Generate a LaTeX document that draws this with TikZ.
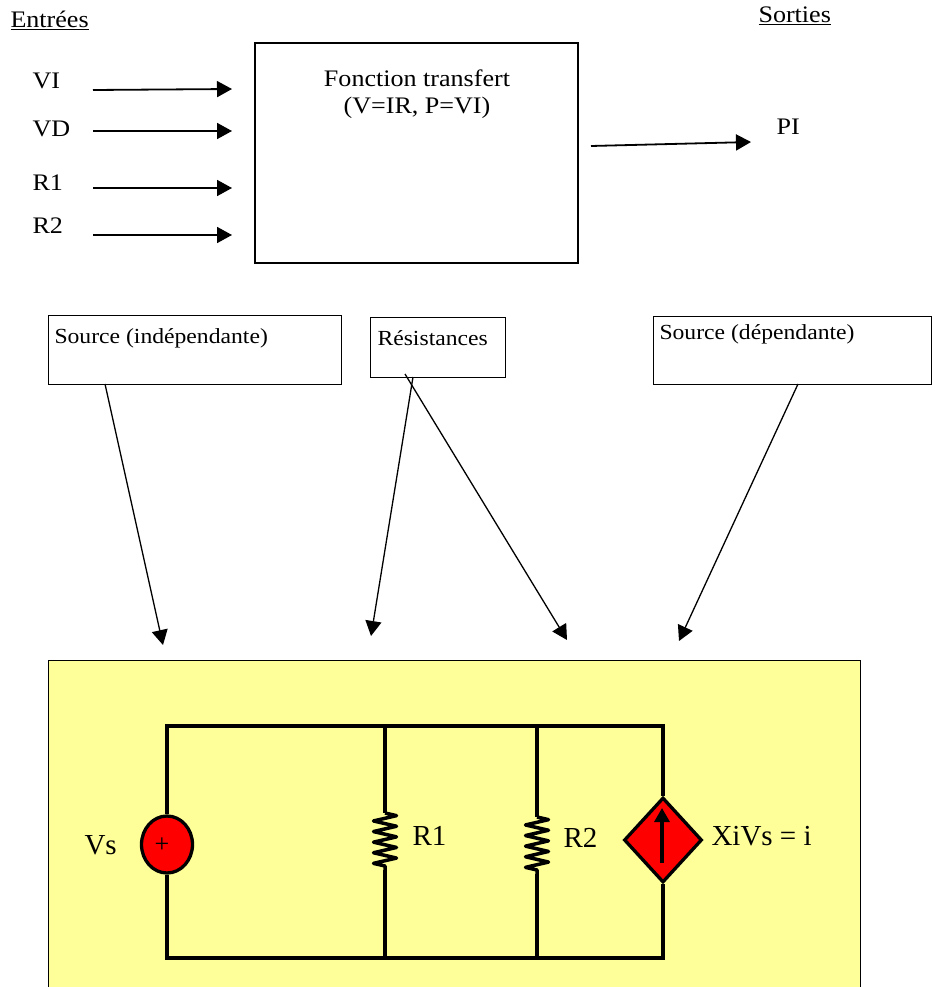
\documentclass[tikz,border=0pt]{standalone}
\usepackage{fontspec}
\setmainfont{Liberation Serif}
\newfontfamily\wideFont[FakeStretch=1.1]{Liberation Serif}
\usetikzlibrary{positioning,shapes.geometric,arrows.meta,decorations.pathmorphing}
\definecolor{paleYellow}{HTML}{FFFF99}

\begin{document}
\begin{tikzpicture}[x=1pt, y=-1pt, line width=1pt, >={Triangle[length=15pt,width=16pt]},
    label/.style={anchor=west, inner sep=0pt, font=\wideFont\fontsize{23.7}{28}\selectfont},
    boxLabel/.style={anchor=west, inner sep=0pt, font=\wideFont\fontsize{21.5}{26}\selectfont},
    bigLabel/.style={anchor=west, inner sep=0pt, font=\fontsize{29}{34}\selectfont},
    plainBox/.style={draw=black, anchor=north west, inner sep=0pt},
    wire/.style={line width=3.3pt, line join=miter},
    link/.style={->, line width=1.3pt},
    feed/.style={->, line width=1.8pt},
    resistor/.style={line width=3.5pt, line join=round, decorate, decoration={zigzag, segment length=10.6pt, amplitude=11.5pt}}]
    \useasboundingbox (0,0) rectangle (934,987);

    \node[label] (inTitle) at (10,20) {\underline{Entrées}};
    \node[label] (outTitle) at (758,16) {\underline{Sorties}};

    \node[draw=black, line width=1.5pt, minimum width=323pt, minimum height=220pt] (transfer) at (416.5,153) {};
    \node[label, anchor=center] (transferA) at (417,78) {Fonction transfert};
    \node[label, anchor=center] (transferB) at (417,108) {(V=IR, P=VI)};

    \node[label] (vi) at (32,81) {VI};
    \node[label] (vd) at (32,129) {VD};
    \node[label] (r1In) at (32,183) {R1};
    \node[label] (r2In) at (32,226) {R2};
    \node[label] (pi) at (776,127) {PI};

    \coordinate (viA) at (93,90);   \coordinate (viB) at (232,89);
    \coordinate (vdA) at (93,131);  \coordinate (vdB) at (232,131);
    \coordinate (r1A) at (93,188);  \coordinate (r1B) at (232,188);
    \coordinate (r2A) at (93,235);  \coordinate (r2B) at (232,235);
    \coordinate (piA) at (591,146); \coordinate (piB) at (751,142);
    \draw[feed] (viA) -- (viB);
    \draw[feed] (vdA) -- (vdB);
    \draw[feed] (r1A) -- (r1B);
    \draw[feed] (r2A) -- (r2B);
    \draw[feed] (piA) -- (piB);

    \node[plainBox, minimum width=293pt, minimum height=69pt] (indep) at (48,315) {};
    \node[plainBox, minimum width=135pt, minimum height=60pt] (resist) at (370,317) {};
    \node[plainBox, minimum width=278pt, minimum height=68pt] (dep) at (653,316) {};
    \node[boxLabel] (indepText) at (54,338) {Source (indépendante)};
    \node[boxLabel] (resistText) at (377,338) {Résistances};
    \node[boxLabel] (depText) at (659,334) {Source (dépendante)};

    % circuit panel, its lower edge falls off the page
    \draw[fill=paleYellow, line width=1pt] (48,660) rectangle (860,995);

    \coordinate (indepEnd) at (163,645);
    \coordinate (resistEndA) at (371,636);
    \coordinate (resistEndB) at (567,640);
    \coordinate (depEnd) at (679,641);
    \draw[link] (105,384) coordinate (indepStart) -- (indepEnd);
    \draw[link] (413,377) coordinate (resistStartA) -- (resistEndA);
    \draw[link] (405,374) coordinate (resistStartB) -- (resistEndB);
    \draw[link] (798,384) coordinate (depStart) -- (depEnd);

    \coordinate (topLeft) at (168,726);
    \coordinate (topA) at (385,726);
    \coordinate (topB) at (537,726);
    \coordinate (topRight) at (663,726);
    \coordinate (botLeft) at (168,958);
    \coordinate (botA) at (385,958);
    \coordinate (botB) at (537,958);
    \coordinate (botRight) at (663,958);
    \coordinate (r1Up) at (385,813);
    \coordinate (r1Down) at (385,870);
    \coordinate (r2Up) at (537,817);
    \coordinate (r2Down) at (537,874);

    \node[shape=ellipse, draw=black, fill=red, line width=3.3pt, minimum width=51pt, minimum height=57pt, inner sep=0pt] (vs) at (167,844.5) {};
    \node[shape=diamond, draw=black, fill=red, line width=3.3pt, minimum width=78pt, minimum height=85pt, inner sep=0pt] (source) at (663,840) {};
    \node[font=\fontsize{26}{30}\selectfont, inner sep=0pt] (plus) at (162,845) {+};

    \draw[wire] (vs.north) -- (vs.north |- topLeft) -- (topRight) -- (source.north);
    \draw[wire] (vs.south) -- (vs.south |- botLeft) -- (botRight) -- (source.south);
    \draw[wire] (topA) -- (r1Up);
    \draw[wire] (r1Down) -- (botA);
    \draw[wire] (topB) -- (r2Up);
    \draw[wire] (r2Down) -- (botB);
    \draw[resistor] (r1Up) -- (r1Down);
    \draw[resistor] (r2Up) -- (r2Down);

    \coordinate (flowA) at (662,863);
    \coordinate (flowB) at (662,808);
    \draw[->, line width=3.3pt, >={Triangle[length=14pt,width=15pt]}] (flowA) -- (flowB);

    \node[bigLabel] (vsText) at (84,845) {Vs};
    \node[bigLabel] (r1Text) at (412,836) {R1};
    \node[bigLabel] (r2Text) at (563,838) {R2};
    \node[bigLabel] (xiText) at (711,836) {XiVs = i};
\end{tikzpicture}
\end{document}
